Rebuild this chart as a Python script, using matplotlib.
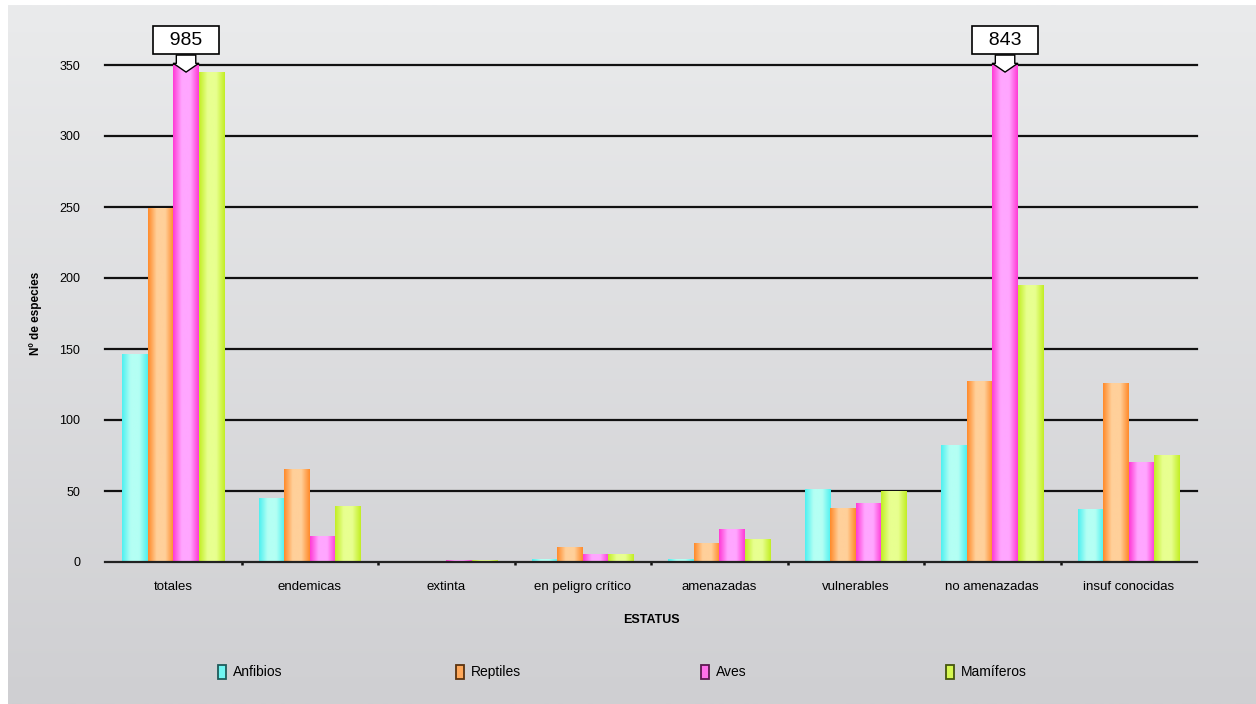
import matplotlib
matplotlib.use("Agg")
import matplotlib.pyplot as plt
import numpy as np
from matplotlib.colors import LinearSegmentedColormap
from matplotlib.patches import Patch

plt.rcParams["font.family"] = ["Liberation Sans", "DejaVu Sans"]

categories = ["totales", "endemicas", "extinta", "en peligro crítico", "amenazadas",
              "vulnerables", "no amenazadas", "insuf conocidas"]
series = ["Anfibios", "Reptiles", "Aves", "Mamíferos"]
anfibios = [146, 45, 0, 2, 2, 51, 82, 37]
reptiles = [249, 65, 0, 10, 13, 38, 127, 126]
aves = [985, 18, 1, 5, 23, 41, 843, 70]
mamiferos = [345, 39, 1, 5, 16, 50, 195, 75]
values = [anfibios, reptiles, aves, mamiferos]

# edge colour, centre colour, legend fill, legend edge
palette = [("#4ef0f0", "#b4fff4", "#6ff6f2", "#1f5b5b"),
           ("#ff8a2a", "#ffd09a", "#ffa85a", "#5b3310"),
           ("#ff3ad6", "#ffa6ff", "#ff70ea", "#5b1a50"),
           ("#c2ee24", "#e8ff90", "#d6f850", "#45560e")]

ymax = 350

fig = plt.figure(figsize=(12.56, 7.04), dpi=100, facecolor="white")

# background gradient
bg = fig.add_axes([8 / 1256, 0, 1 - 8 / 1256, 1 - 5 / 704], zorder=-5)
grad = np.linspace(0, 1, 256).reshape(-1, 1)
bg.imshow(grad, aspect="auto", extent=[0, 1, 0, 1],
          cmap=LinearSegmentedColormap.from_list("bg", ["#eaebec", "#cfcfd2"]))
bg.set_axis_off()

ax = fig.add_axes([105 / 1256, 1 - 562 / 704, (1197 - 105) / 1256, (562 - 65) / 704])
ax.set_facecolor("none")

x = np.arange(len(categories))
n = len(series)
group = 0.75
w = group / n

for i, (vals, col) in enumerate(zip(values, palette)):
    edge, centre = col[0], col[1]
    pos = x - group / 2 + w * (i + 0.5)
    cmap = LinearSegmentedColormap.from_list(
        "b%d" % i, [edge, centre, centre, edge], N=256)
    shade = np.linspace(0, 1, 64).reshape(1, -1)
    for xp, v in zip(pos, vals):
        top = min(v, ymax)
        if top <= 0:
            continue
        ax.imshow(shade, cmap=cmap, aspect="auto", zorder=3,
                  extent=[xp - w / 2, xp + w / 2, 0, top], interpolation="bicubic")

ax.set_xlim(-0.5, len(categories) - 0.5)
ax.set_ylim(0, ymax)

# grid
for gy in range(50, ymax + 1, 50):
    ax.axhline(gy, color="#111111", lw=1.6, zorder=1, clip_on=False)

for s in ["top", "right", "left"]:
    ax.spines[s].set_visible(False)
ax.spines["bottom"].set_linewidth(1.6)
ax.spines["bottom"].set_color("#222222")
ax.spines["bottom"].set_zorder(4)

ax.set_yticks(range(0, ymax + 1, 50))
ax.tick_params(axis="y", length=0, pad=18, labelsize=9)
ax.set_xticks(x)
ax.set_xticklabels(categories, fontsize=9.5)
ax.tick_params(axis="x", length=0, pad=14)
ax.set_xticks(np.arange(0.5, len(categories) - 0.5, 1), minor=True)
ax.tick_params(axis="x", which="minor", length=2.5, width=1.8, color="#111111")

ax.set_xlabel("ESTATUS", fontsize=9, fontweight="bold", labelpad=15)
ax.set_ylabel("Nº de especies", fontsize=8.5, fontweight="bold", labelpad=12)

# callouts for clipped bars
aves_pos = x - group / 2 + w * 2.5
for idx, v in enumerate(aves):
    if v > ymax:
        ax.annotate("  %d  " % v, xy=(aves_pos[idx], ymax - 5), xytext=(0, 23),
                    textcoords="offset points", ha="center", va="center",
                    fontsize=14, zorder=6, annotation_clip=False,
                    bbox=dict(boxstyle="square,pad=0.3", fc="white", ec="black", lw=1.2),
                    arrowprops=dict(arrowstyle="simple,head_length=0.45,head_width=1.3,tail_width=1.0",
                                    fc="white", ec="black", lw=1.0, shrinkA=0, shrinkB=0))

# legend entries spread across the bottom, one per series
legend_x = [218, 456, 701, 946]
for c, name, lx in zip(palette, series, legend_x):
    h = Patch(facecolor=c[2], edgecolor=c[3], lw=1.3)
    fig.legend([h], [name], loc="center left", frameon=False,
               bbox_to_anchor=(lx / 1256, 1 - 672 / 704), borderaxespad=0,
               borderpad=0, fontsize=10, handlelength=0.6, handleheight=1.2,
               handletextpad=0.5)

fig.savefig("out.png", dpi=100)
